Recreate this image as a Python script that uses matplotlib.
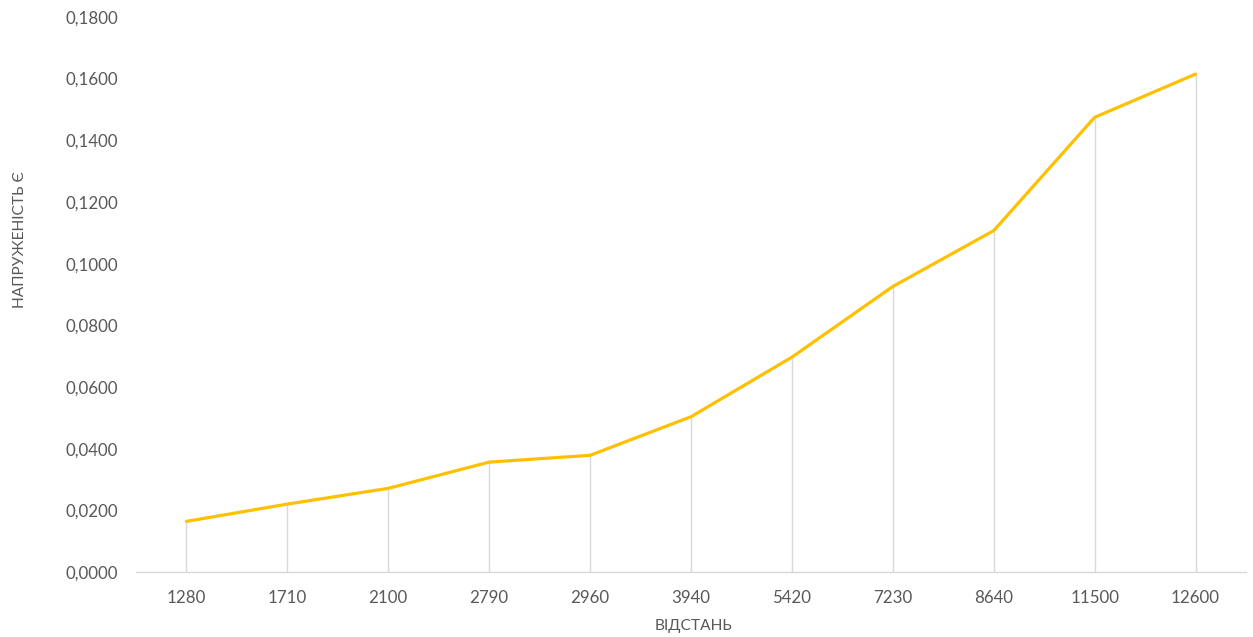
import matplotlib
matplotlib.use("Agg")
import matplotlib.pyplot as plt
from matplotlib.ticker import FuncFormatter

# Distances (categories) and field-strength values
distances = ["1280", "1710", "2100", "2790", "2960", "3940",
             "5420", "7230", "8640", "11500", "12600"]
strength = [0.0165, 0.0221, 0.0272, 0.0357, 0.0379, 0.0504,
            0.0697, 0.0926, 0.1107, 0.1474, 0.1614]
y_ticks = [0.0, 0.02, 0.04, 0.06, 0.08, 0.10, 0.12, 0.14, 0.16, 0.18]

plt.rcParams["font.family"] = ["Lato", "DejaVu Sans"]
text_color = "#595959"

fig = plt.figure(figsize=(12.53, 6.37), dpi=100)
ax = fig.add_axes([136 / 1253, 1 - 572.3 / 637, 1110 / 1253, (572.3 - 16.7) / 637])

x = list(range(len(distances)))

# Drop lines from each point down to the category axis
ax.vlines(x, 0, strength, colors="#D9D9D9", linewidth=1.0, zorder=1)
ax.plot(x, strength, color="#FFC000", linewidth=2.3, solid_joinstyle="round",
        solid_capstyle="round", zorder=3)

ax.set_xlim(-0.5, len(distances) - 0.5)
ax.set_ylim(0, 0.18)
ax.set_xticks(x)
ax.set_xticklabels(distances)
ax.set_yticks(y_ticks)
ax.yaxis.set_major_formatter(FuncFormatter(lambda v, _: f"{v:.4f}".replace(".", ",")))

for side in ("top", "right", "left"):
    ax.spines[side].set_visible(False)
ax.spines["bottom"].set_color("#D9D9D9")
ax.spines["bottom"].set_linewidth(1.0)

ax.tick_params(axis="both", length=0, labelsize=12.2, colors=text_color)
ax.tick_params(axis="x", pad=13)
ax.tick_params(axis="y", pad=13)

fig.text(693 / 1253, 1 - 626 / 637, "ВІДСТАНЬ", ha="center", va="center",
         fontsize=11.2, color=text_color)
fig.text(20 / 1253, 1 - 240 / 637, "НАПРУЖЕНІСТЬ Є", ha="center", va="center",
         rotation=90, fontsize=11.2, color=text_color)

fig.savefig("out.png", dpi=100, facecolor="white")
